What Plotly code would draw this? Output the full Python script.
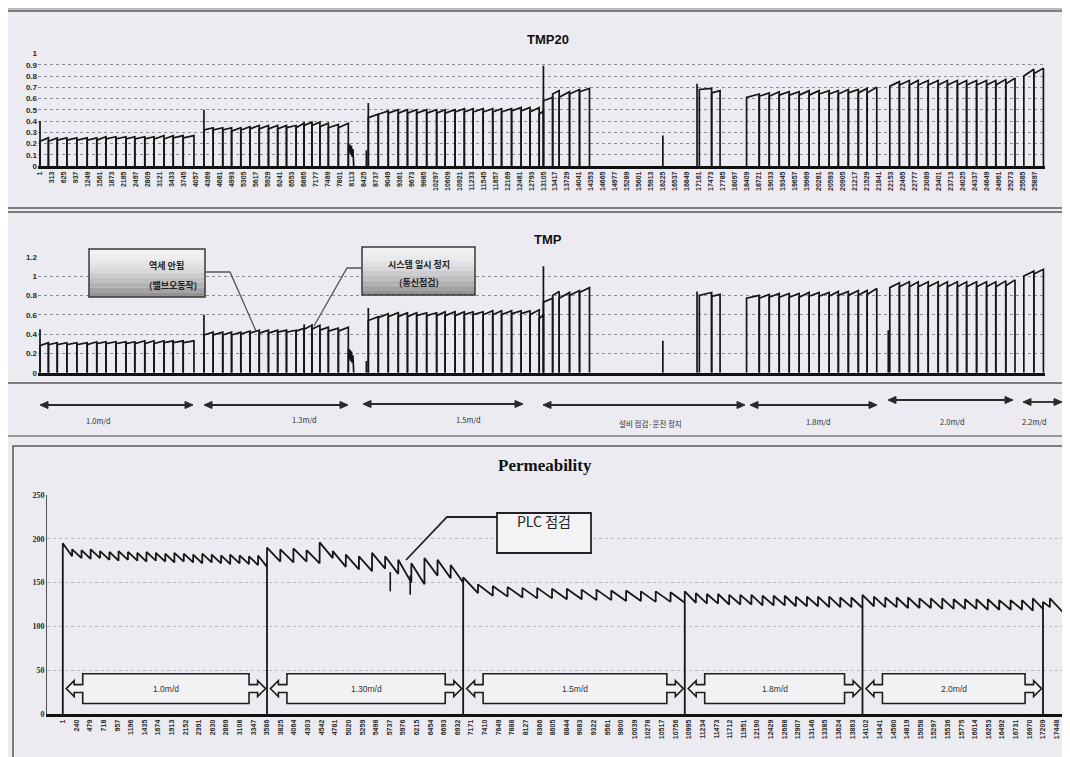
import plotly.graph_objects as go

W, H = 1070, 757
OFF = 8  # default page margin of the html body

# ---------------- data ----------------
# TMP20 / TMP : filtration cycles (sample index where a cycle starts / ends)
cycle_start = [1, 220, 450, 700, 960, 1230, 1480, 1720, 1980, 2240, 2470, 2730, 2970, 3230, 3470, 3730,
               4270, 4510, 4760, 4990, 5230, 5470, 5710, 5950, 6190, 6420, 6670, 6880, 7080, 7290, 7510, 7770,
               8550, 8810, 9070, 9330, 9570, 9810, 10070, 10330, 10550, 10810, 11050, 11280, 11540, 11790, 12020, 12280, 12530, 12760,
               13000, 13110, 13350, 13520, 13790, 14050,
               17170, 17490,
               18400, 18730, 18990, 19250, 19510, 19770, 20030, 20290, 20550, 20790, 21050, 21310, 21540,
               22130, 22380, 22640, 22870, 23130, 23390, 23630, 23890, 24130, 24390, 24650, 24890, 25150,
               25620, 25880]
cycle_end = [220, 450, 700, 960, 1230, 1480, 1720, 1980, 2240, 2470, 2730, 2970, 3230, 3470, 3730, 4010,
             4510, 4760, 4990, 5230, 5470, 5710, 5950, 6190, 6420, 6670, 6880, 7080, 7290, 7510, 7770, 8030,
             8810, 9070, 9330, 9570, 9810, 10070, 10330, 10550, 10810, 11050, 11280, 11540, 11790, 12020, 12280, 12530, 12760, 13000,
             13110, 13350, 13520, 13790, 14050, 14310,
             17490, 17710,
             18730, 18990, 19250, 19510, 19770, 20030, 20290, 20550, 20790, 21050, 21310, 21540, 21790,
             22380, 22640, 22870, 23130, 23390, 23630, 23890, 24130, 24390, 24650, 24890, 25150, 25390,
             25880, 26130]

tmp20_lo = [0.22, 0.22, 0.23, 0.23, 0.23, 0.23, 0.23, 0.24, 0.24, 0.24, 0.24, 0.24, 0.24, 0.24, 0.25, 0.25,
            0.32, 0.32, 0.32, 0.31, 0.32, 0.33, 0.33, 0.33, 0.33, 0.34, 0.34, 0.36, 0.36, 0.35, 0.34, 0.34,
            0.43, 0.46, 0.47, 0.47, 0.47, 0.47, 0.47, 0.47, 0.47, 0.48, 0.48, 0.48, 0.48, 0.48, 0.48, 0.49, 0.49, 0.48,
            0.46, 0.58, 0.64, 0.61, 0.64, 0.66,
            0.68, 0.65,
            0.61, 0.62, 0.62, 0.63, 0.63, 0.63, 0.63, 0.64, 0.64, 0.64, 0.65, 0.65, 0.65,
            0.71, 0.72, 0.72, 0.72, 0.72, 0.72, 0.72, 0.72, 0.72, 0.72, 0.72, 0.72, 0.73,
            0.80, 0.82]
tmp20_hi = [0.25, 0.25, 0.25, 0.25, 0.25, 0.25, 0.26, 0.26, 0.26, 0.26, 0.26, 0.26, 0.27, 0.27, 0.27, 0.27,
            0.34, 0.34, 0.34, 0.34, 0.35, 0.36, 0.36, 0.36, 0.36, 0.36, 0.38, 0.39, 0.39, 0.38, 0.37, 0.38,
            0.46, 0.49, 0.50, 0.50, 0.50, 0.50, 0.50, 0.50, 0.50, 0.51, 0.51, 0.51, 0.51, 0.51, 0.51, 0.52, 0.52, 0.52,
            0.49, 0.61, 0.67, 0.66, 0.68, 0.69,
            0.69, 0.67,
            0.64, 0.65, 0.66, 0.66, 0.66, 0.67, 0.67, 0.67, 0.67, 0.68, 0.68, 0.69, 0.70,
            0.75, 0.76, 0.76, 0.76, 0.76, 0.76, 0.76, 0.76, 0.76, 0.76, 0.76, 0.77, 0.78,
            0.86, 0.87]

tmp_lo = [0.28, 0.29, 0.29, 0.29, 0.29, 0.29, 0.30, 0.30, 0.30, 0.30, 0.30, 0.30, 0.30, 0.31, 0.31, 0.31,
          0.39, 0.39, 0.39, 0.39, 0.40, 0.41, 0.41, 0.41, 0.42, 0.42, 0.43, 0.45, 0.45, 0.44, 0.43, 0.43,
          0.54, 0.57, 0.58, 0.58, 0.58, 0.59, 0.59, 0.59, 0.59, 0.59, 0.60, 0.60, 0.60, 0.60, 0.60, 0.61, 0.61, 0.60,
          0.56, 0.73, 0.80, 0.77, 0.80, 0.83,
          0.80, 0.79,
          0.77, 0.77, 0.78, 0.78, 0.78, 0.78, 0.79, 0.79, 0.79, 0.80, 0.80, 0.80, 0.81,
          0.88, 0.89, 0.89, 0.89, 0.89, 0.89, 0.89, 0.89, 0.89, 0.89, 0.89, 0.89, 0.90,
          1.00, 1.02]
tmp_hi = [0.31, 0.31, 0.31, 0.31, 0.31, 0.32, 0.32, 0.32, 0.32, 0.32, 0.33, 0.33, 0.33, 0.33, 0.33, 0.33,
          0.42, 0.42, 0.42, 0.42, 0.43, 0.44, 0.44, 0.44, 0.44, 0.44, 0.46, 0.49, 0.49, 0.47, 0.46, 0.47,
          0.58, 0.61, 0.62, 0.62, 0.62, 0.62, 0.62, 0.63, 0.63, 0.63, 0.63, 0.63, 0.64, 0.64, 0.64, 0.64, 0.64, 0.65,
          0.60, 0.77, 0.84, 0.83, 0.85, 0.88,
          0.83, 0.81,
          0.80, 0.81, 0.82, 0.82, 0.82, 0.83, 0.83, 0.83, 0.84, 0.84, 0.85, 0.85, 0.87,
          0.93, 0.94, 0.94, 0.94, 0.94, 0.94, 0.94, 0.94, 0.94, 0.94, 0.94, 0.95, 0.96,
          1.05, 1.07]

spike_idx = [1, 4270, 6880, 7080, 8500, 8550, 13110, 16220, 17110, 22090]
tmp20_spike = [0.40, 0.50, 0.39, 0.39, 0.14, 0.56, 0.89, 0.27, 0.73, 0.0]
tmp_spike = [0.45, 0.60, 0.50, 0.50, 0.12, 0.67, 1.10, 0.33, 0.84, 0.44]

blob_idx = [8030, 8050, 8070, 8090, 8110, 8130, 8150, 8170]
tmp20_blob = [0.20, 0.12, 0.19, 0.10, 0.18, 0.08, 0.15, 0.0]
tmp_blob = [0.25, 0.14, 0.24, 0.12, 0.22, 0.10, 0.18, 0.0]

tmp_ticks = [1, 313, 625, 937, 1249, 1561, 1873, 2185, 2497, 2809, 3121, 3433, 3745, 4057, 4369, 4681,
             4993, 5305, 5617, 5929, 6241, 6553, 6865, 7177, 7489, 7801, 8113, 8425, 8737, 9049, 9361,
             9673, 9985, 10297, 10609, 10921, 11233, 11545, 11857, 12169, 12481, 12793, 13105, 13417,
             13729, 14041, 14353, 14665, 14977, 15289, 15601, 15913, 16225, 16537, 16849, 17161, 17473,
             17785, 18097, 18409, 18721, 19033, 19345, 19657, 19969, 20281, 20593, 20905, 21217, 21529,
             21841, 22153, 22465, 22777, 23089, 23401, 23713, 24025, 24337, 24649, 24961, 25273, 25585, 25897]

# Permeability : saw-teeth (start index, value after backwash, value at end of tooth)
perm_start = [1, 165, 330, 490, 655, 820, 980, 1145, 1310, 1470, 1635, 1800, 1960, 2125, 2290, 2450, 2615, 2780, 2940, 3105, 3270, 3430,
              3586, 3820, 4050, 4280, 4510, 4740, 4970, 5200, 5430, 5660, 5890, 6120, 6350, 6580, 6810,
              7030, 7290, 7550, 7810, 8070, 8330, 8590, 8850, 9110, 9370, 9630, 9890, 10150, 10410, 10670,
              10920, 11115, 11310, 11505, 11700, 11895, 12090, 12285, 12480, 12675, 12870, 13065, 13260, 13455, 13650, 13845,
              14040, 14240, 14440, 14640, 14840, 15040, 15240, 15440, 15640, 15840, 16040, 16240, 16440, 16640, 16840, 17030,
              17209, 17330]
perm_hi = [195, 188, 187, 188, 186, 185, 186, 185, 184, 185, 184, 183, 184, 183, 182, 183, 182, 181, 182, 181, 180, 181,
           190, 188, 189, 187, 196, 186, 182, 180, 184, 180, 176, 172, 178, 176, 170,
           156, 148, 146, 145, 144, 144, 143, 143, 142, 142, 141, 141, 140, 140, 139,
           140, 138, 137, 137, 136, 136, 136, 135, 135, 135, 134, 134, 134, 134, 133, 133,
           136, 134, 133, 133, 133, 132, 132, 132, 131, 131, 131, 131, 130, 130, 130, 132,
           128, 132]
perm_lo = [180, 178, 177, 178, 176, 175, 176, 175, 174, 175, 174, 173, 174, 173, 172, 173, 172, 171, 172, 171, 170, 168,
           174, 173, 174, 172, 178, 168, 165, 163, 166, 160, 150, 148, 158, 155, 150,
           138, 135, 134, 133, 132, 132, 131, 131, 130, 130, 129, 129, 128, 128, 127,
           127, 126, 126, 125, 125, 125, 124, 124, 124, 123, 123, 123, 122, 122, 122, 121,
           123, 122, 122, 121, 121, 121, 120, 120, 120, 120, 119, 119, 119, 119, 118, 120,
           122, 116]
perm_breaks = [3586, 7030, 10920, 14040, 17209]
perm_last = 17560
dip_idx = [5750, 6100]
dip_top = [162, 158]
dip_bot = [140, 136]

perm_ticks = [1, 240, 479, 718, 957, 1196, 1435, 1674, 1913, 2152, 2391, 2630, 2869, 3108, 3347, 3586,
              3825, 4064, 4303, 4542, 4781, 5020, 5259, 5498, 5737, 5976, 6215, 6454, 6693, 6932, 7171,
              7410, 7649, 7888, 8127, 8366, 8605, 8844, 9083, 9322, 9561, 9800, 10039, 10278, 10517, 10756,
              10995, 11234, 11473, 11712, 11951, 12190, 12429, 12668, 12907, 13146, 13385, 13624, 13863,
              14102, 14341, 14580, 14819, 15058, 15297, 15536, 15775, 16014, 16253, 16492, 16731, 16970,
              17209, 17448]

rate_labels = ["1.0m/d", "1.30m/d", "1.5m/d", "1.8m/d", "2.0m/d"]
top_rate_labels = ["1.0m/d", "1.3m/d", "1.5m/d", "설비 점검·운전 정지", "1.8m/d", "2.0m/d", "2.2m/d"]

# ---------------- helpers ----------------
def fx(px):
    return (px - OFF) / W

def fy(py):
    return 1 - (py - OFF) / H


def tmp_xy(lo, hi, spk, blob):
    xs, ys = [], []
    for s, e, a, b in zip(cycle_start, cycle_end, lo, hi):
        xs += [s, s, e, e, None]
        ys += [0, a, b, 0, None]
    for i, v in zip(spike_idx, spk):
        if v > 0:
            xs += [i, i, None]
            ys += [0, v, None]
    xs += [blob_idx[0]] + blob_idx + [None]
    ys += [0] + blob + [None]
    return xs, ys


def perm_xy():
    xs, ys = [perm_start[0]], [0]
    for k, s in enumerate(perm_start):
        e = perm_start[k + 1] if k + 1 < len(perm_start) else perm_last
        if s in perm_breaks:
            xs.append(s); ys.append(0)
        xs += [s, e]
        ys += [perm_hi[k], perm_lo[k]]
    return xs, ys


LINE = "#151515"
BG = "#ebebf1"

fig = go.Figure()

x1, y1 = tmp_xy(tmp20_lo, tmp20_hi, tmp20_spike, tmp20_blob)
fig.add_trace(go.Scatter(x=x1, y=y1, mode="lines", line=dict(color=LINE, width=1.7),
                         xaxis="x", yaxis="y", showlegend=False, hoverinfo="skip"))
x2, y2 = tmp_xy(tmp_lo, tmp_hi, tmp_spike, tmp_blob)
fig.add_trace(go.Scatter(x=x2, y=y2, mode="lines", line=dict(color=LINE, width=1.7),
                         xaxis="x2", yaxis="y2", showlegend=False, hoverinfo="skip"))
x3, y3 = perm_xy()
fig.add_trace(go.Scatter(x=x3, y=y3, mode="lines", line=dict(color=LINE, width=1.8),
                         xaxis="x3", yaxis="y3", showlegend=False, hoverinfo="skip"))
dx, dy = [], []
for i, t, b in zip(dip_idx, dip_top, dip_bot):
    dx += [i, i, None]; dy += [t, b, None]
fig.add_trace(go.Scatter(x=dx, y=dy, mode="lines", line=dict(color=LINE, width=1.6),
                         xaxis="x3", yaxis="y3", showlegend=False, hoverinfo="skip"))

tick_font = dict(family="Liberation Sans, Arial", size=7, color="#2a2a2a", weight="bold")
ytick_font = dict(family="Liberation Sans, Arial", size=8, color="#2a2a2a", weight="bold")

tmp_range = [-51, 26171]
xdom = [fx(38), fx(1045)]

layout = dict(
    width=W, height=H, margin=dict(l=0, r=0, t=0, b=0, autoexpand=False),
    paper_bgcolor=BG, plot_bgcolor="rgba(0,0,0,0)",
    xaxis=dict(domain=xdom, range=tmp_range, anchor="y", tickvals=tmp_ticks, automargin=False,
               ticktext=[str(v) for v in tmp_ticks], tickangle=-90, tickfont=tick_font,
               showline=True, linecolor="#111", linewidth=2.5, showgrid=False, zeroline=False, ticks=""),
    yaxis=dict(domain=[fy(166), fy(53.5)], range=[0, 1.0], anchor="x", automargin=False,
               tickvals=[0, 0.1, 0.2, 0.3, 0.4, 0.5, 0.6, 0.7, 0.8, 0.9, 1.0],
               ticktext=["0", "0.1", "0.2", "0.3", "0.4", "0.5", "0.6", "0.7", "0.8", "0.9", "1"],
               tickfont=ytick_font, showgrid=True, gridcolor="#8c8c94", griddash="dot", gridwidth=1,
               zeroline=False, showline=False, ticks="", ticklen=0),
    xaxis2=dict(domain=xdom, range=tmp_range, anchor="y2", showticklabels=False, automargin=False,
                showline=True, linecolor="#111", linewidth=2.5, showgrid=False, zeroline=False, ticks=""),
    yaxis2=dict(domain=[fy(372.7), fy(256.7)], range=[0, 1.2], anchor="x2", automargin=False,
                tickvals=[0, 0.2, 0.4, 0.6, 0.8, 1.0, 1.2],
                ticktext=["0", "0.2", "0.4", "0.6", "0.8", "1", "1.2"],
                tickfont=ytick_font, showgrid=True, gridcolor="#8c8c94", griddash="dot", gridwidth=1,
                zeroline=False, showline=False, ticks=""),
    xaxis3=dict(domain=[fx(47), fx(1065)], range=[-276, 17595], anchor="y3", tickvals=perm_ticks, automargin=False,
                ticktext=[str(v) for v in perm_ticks], tickangle=-90, tickfont=tick_font,
                showline=True, linecolor="#111", linewidth=2.8, showgrid=False, zeroline=False, ticks=""),
    yaxis3=dict(domain=[fy(714), fy(495)], range=[0, 250], anchor="x3", automargin=False,
                tickvals=[0, 50, 100, 150, 200, 250],
                tickfont=dict(family="Liberation Serif, DejaVu Serif", size=8, color="#2a2a2a", weight="bold"),
                showgrid=True, gridcolor="#b8b8c0", griddash="dot", gridwidth=1,
                zeroline=False, showline=True, linecolor="#555", linewidth=1, ticks=""),
)
fig.update_layout(**layout)

shapes = []
annotations = []

# panel frames
def rect(x0, y0, x1_, y1_, color="#5a5a5a", width=1.5, fill="rgba(0,0,0,0)"):
    shapes.append(dict(type="rect", xref="paper", yref="paper", x0=fx(x0), x1=fx(x1_), y0=fy(y1_), y1=fy(y0),
                       line=dict(color=color, width=width), fillcolor=fill, layer="below"))

rect(7, 11, 1066, 208)
rect(7, 212, 1066, 383)
rect(13, 446, 1072, 770)
shapes.append(dict(type="line", xref="paper", yref="paper", x0=0, x1=1, y0=fy(436), y1=fy(436),
                   line=dict(color="#7a7a7a", width=1.5)))
shapes.append(dict(type="line", xref="paper", yref="paper", x0=0, x1=1, y0=fy(9), y1=fy(9),
                   line=dict(color="#8a8a8a", width=1)))

# titles
annotations.append(dict(text="TMP20", x=fx(548), y=fy(30), xref="paper", yref="paper", showarrow=False,
                        font=dict(family="Liberation Sans, Arial", size=13, color="#111", weight="bold")))
annotations.append(dict(text="TMP", x=fx(548), y=fy(230), xref="paper", yref="paper", showarrow=False,
                        font=dict(family="Liberation Sans, Arial", size=13, color="#111", weight="bold")))
annotations.append(dict(text="Permeability", x=fx(545), y=fy(466), xref="paper", yref="paper", showarrow=False,
                        font=dict(family="Liberation Serif, DejaVu Serif", size=17, color="#111", weight="bold")))

# middle double arrows row
arrows = [(40, 193, 405), (204, 348, 405), (363, 523, 404), (543, 745, 405),
          (750, 877, 405), (888, 1013, 400), (1023, 1062, 402)]
label_pos = [(84, 420), (290, 419), (468, 419), (650, 423), (833, 421), (967, 421), (1049, 421)]
for (a, b, yy) in arrows:
    shapes.append(dict(type="line", xref="paper", yref="paper", x0=fx(a + 5), x1=fx(b - 5), y0=fy(yy), y1=fy(yy),
                       line=dict(color="#2a2a2a", width=1.8)))
    for tip, back in ((a, a + 8), (b, b - 8)):
        shapes.append(dict(type="path", xref="paper", yref="paper",
                           path=f"M {fx(tip)},{fy(yy)} L {fx(back)},{fy(yy - 3.5)} L {fx(back)},{fy(yy + 3.5)} Z",
                           fillcolor="#2a2a2a", line=dict(color="#2a2a2a", width=1)))
for txt, (lx, ly) in zip(top_rate_labels, label_pos):
    annotations.append(dict(text=txt, x=fx(lx), y=fy(ly), xref="paper", yref="paper", showarrow=False,
                            font=dict(family="Noto Sans CJK KR, Liberation Sans", size=7.5, color="#333")))

# grey gradient callout boxes on TMP panel
def grad_box(x0, y0, x1_, y1_, lines_txt, text_y):
    n = 10
    for k in range(n):
        t = k / (n - 1)
        c = int(242 - 95 * t ** 1.6)
        ya = y0 + (y1_ - y0) * k / n
        yb = y0 + (y1_ - y0) * (k + 1) / n
        shapes.append(dict(type="rect", xref="paper", yref="paper", x0=fx(x0), x1=fx(x1_), y0=fy(yb), y1=fy(ya),
                           fillcolor=f"rgb({c},{c},{c + 2})", line=dict(width=0)))
    shapes.append(dict(type="rect", xref="paper", yref="paper", x0=fx(x0), x1=fx(x1_), y0=fy(y1_), y1=fy(y0),
                       line=dict(color="#3a3a3a", width=1.5), fillcolor="rgba(0,0,0,0)"))
    for txt, ty in zip(lines_txt, text_y):
        annotations.append(dict(text=txt, x=fx((x0 + x1_) / 2), y=fy(ty), xref="paper", yref="paper",
                                showarrow=False,
                                font=dict(family="Noto Sans CJK KR", size=9, color="#222", weight="bold")))

grad_box(89, 249, 205, 297, ["역세 안됨", "(밸브오동작)"], [266, 285])
grad_box(362, 247, 475, 295, ["시스템 일시 정지", "(통신점검)"], [264, 283])
shapes.append(dict(type="path", xref="paper", yref="paper",
                   path=f"M {fx(205)},{fy(272)} L {fx(230)},{fy(272)} L {fx(256)},{fy(331)}",
                   line=dict(color="#555", width=1.3)))
shapes.append(dict(type="path", xref="paper", yref="paper",
                   path=f"M {fx(362)},{fy(268)} L {fx(347)},{fy(268)} L {fx(314)},{fy(326)}",
                   line=dict(color="#555", width=1.3)))

# PLC callout
shapes.append(dict(type="rect", xref="paper", yref="paper", x0=fx(497), x1=fx(591), y0=fy(553), y1=fy(513),
                   line=dict(color="#222", width=1.8), fillcolor="#f3f3f6"))
shapes.append(dict(type="path", xref="paper", yref="paper",
                   path=f"M {fx(497)},{fy(517)} L {fx(447)},{fy(517)} L {fx(406)},{fy(560)}",
                   line=dict(color="#222", width=1.8)))
annotations.append(dict(text="PLC 점검", x=fx(544), y=fy(533), xref="paper", yref="paper", showarrow=False,
                        font=dict(family="Noto Sans CJK KR", size=14, color="#222")))

# double-arrow boxes inside Permeability chart
seg_bounds = [perm_start[0]] + perm_breaks
head, neck = 140, 150
mid, hh, nh, top, bot = 29, 9, 4.5, 46, 12
for k, txt in enumerate(rate_labels):
    a = seg_bounds[k] + 60
    b = seg_bounds[k + 1] - 25
    pts = [(a, mid), (a + head, mid + hh), (a + head, mid + nh), (a + head + neck, mid + nh),
           (a + head + neck, top), (b - head - neck, top), (b - head - neck, mid + nh), (b - head, mid + nh),
           (b - head, mid + hh), (b, mid), (b - head, mid - hh), (b - head, mid - nh),
           (b - head - neck, mid - nh), (b - head - neck, bot), (a + head + neck, bot), (a + head + neck, mid - nh),
           (a + head, mid - nh), (a + head, mid - hh)]
    path = "M " + " L ".join(f"{px},{py}" for px, py in pts) + " Z"
    shapes.append(dict(type="path", xref="x3", yref="y3", path=path,
                       line=dict(color="#1e1e1e", width=1.6), fillcolor="#f2f2f5"))
    annotations.append(dict(text=txt, x=(a + b) / 2, y=mid, xref="x3", yref="y3", showarrow=False,
                            font=dict(family="Liberation Sans, Arial", size=8.5, color="#333")))

fig.update_layout(shapes=shapes, annotations=annotations)
fig.write_html("out.html")
